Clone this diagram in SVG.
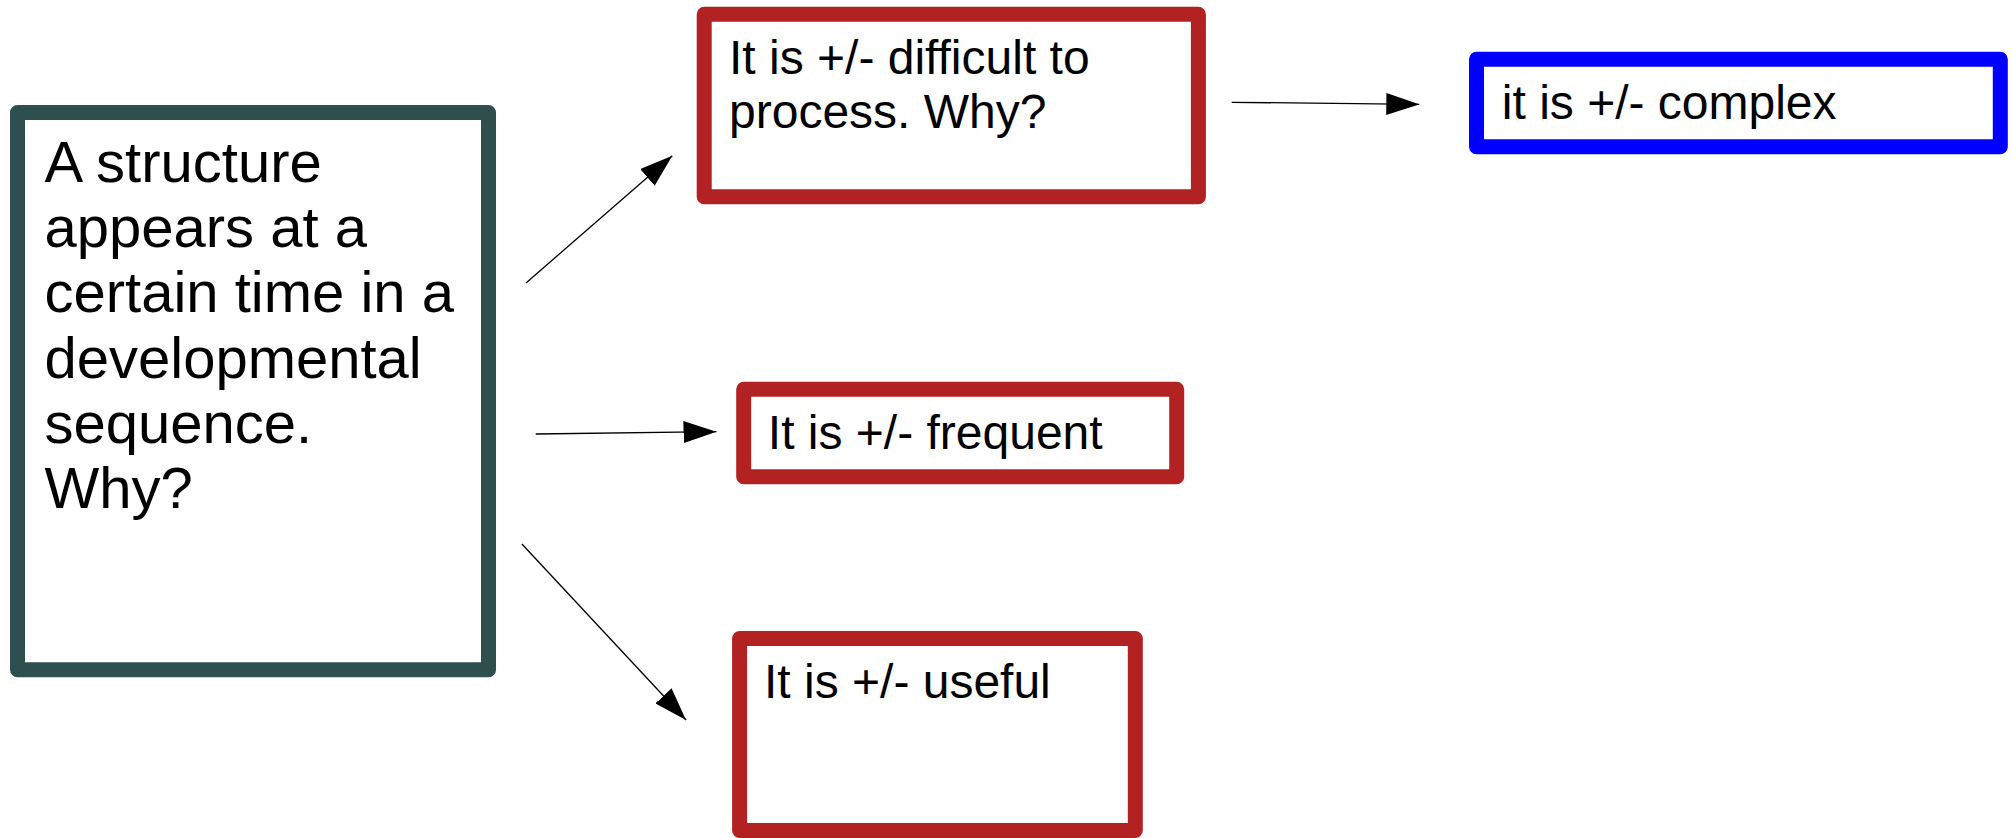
<svg xmlns="http://www.w3.org/2000/svg" width="2013" height="838" viewBox="0 0 2013 838">
  <style>
    .box { fill: #ffffff; stroke-width: 15; stroke-linejoin: round; }
    .slate { stroke: #2f4f4f; }
    .red { stroke: #b22222; }
    .blue { stroke: #0000ff; }
    .t { font-family: "Liberation Sans", Arial, sans-serif; fill: #000000; }
    .conn { stroke: #000000; stroke-width: 1.3; fill: none; }
  </style>
  <defs>
    <marker id="arrow" markerUnits="userSpaceOnUse" markerWidth="33" markerHeight="22" refX="33" refY="11" orient="auto" viewBox="0 0 33 22">
      <path d="M0,0 L33,11 L0,22 Z" fill="#000000"/>
    </marker>
  </defs>
  <rect x="0" y="0" width="2013" height="838" fill="#ffffff"/>

  <g id="node-structure">
    <rect class="box slate" x="17.5" y="112.6" width="471" height="557.2"/>
    <g class="t" font-size="58">
      <text x="44.5" y="181.8">A structure</text>
      <text x="44.5" y="247.1">appears at a</text>
      <text x="44.5" y="312.4">certain time in a</text>
      <text x="44.5" y="377.7">developmental</text>
      <text x="44.5" y="443">sequence.</text>
      <text x="44.5" y="508.3">Why?</text>
    </g>
  </g>

  <g id="node-difficult">
    <rect class="box red" x="704.2" y="14.3" width="494.2" height="182.4"/>
    <g class="t" font-size="48">
      <text x="729" y="74">It is +/- difficult to</text>
      <text x="729" y="128.3">process. Why?</text>
    </g>
  </g>

  <g id="node-complex">
    <rect class="box blue" x="1476.5" y="59.2" width="523.8" height="87.6"/>
    <text class="t" font-size="48" x="1501.8" y="119.3">it is +/- complex</text>
  </g>

  <g id="node-frequent">
    <rect class="box red" x="743.7" y="389.2" width="433" height="87.6"/>
    <text class="t" font-size="48" x="767.8" y="449.3">It is +/- frequent</text>
  </g>

  <g id="node-useful">
    <rect class="box red" x="739.6" y="638.5" width="395.7" height="192"/>
    <text class="t" font-size="48" x="764" y="698.3">It is +/- useful</text>
  </g>

  <g id="connectors">
    <line class="conn" x1="526" y1="283" x2="672.3" y2="155.7" marker-end="url(#arrow)"/>
    <line class="conn" x1="535.7" y1="434" x2="716.5" y2="431.7" marker-end="url(#arrow)"/>
    <line class="conn" x1="521.9" y1="544" x2="686" y2="720" marker-end="url(#arrow)"/>
    <line class="conn" x1="1231.7" y1="102.3" x2="1419.3" y2="104.3" marker-end="url(#arrow)"/>
  </g>
</svg>
